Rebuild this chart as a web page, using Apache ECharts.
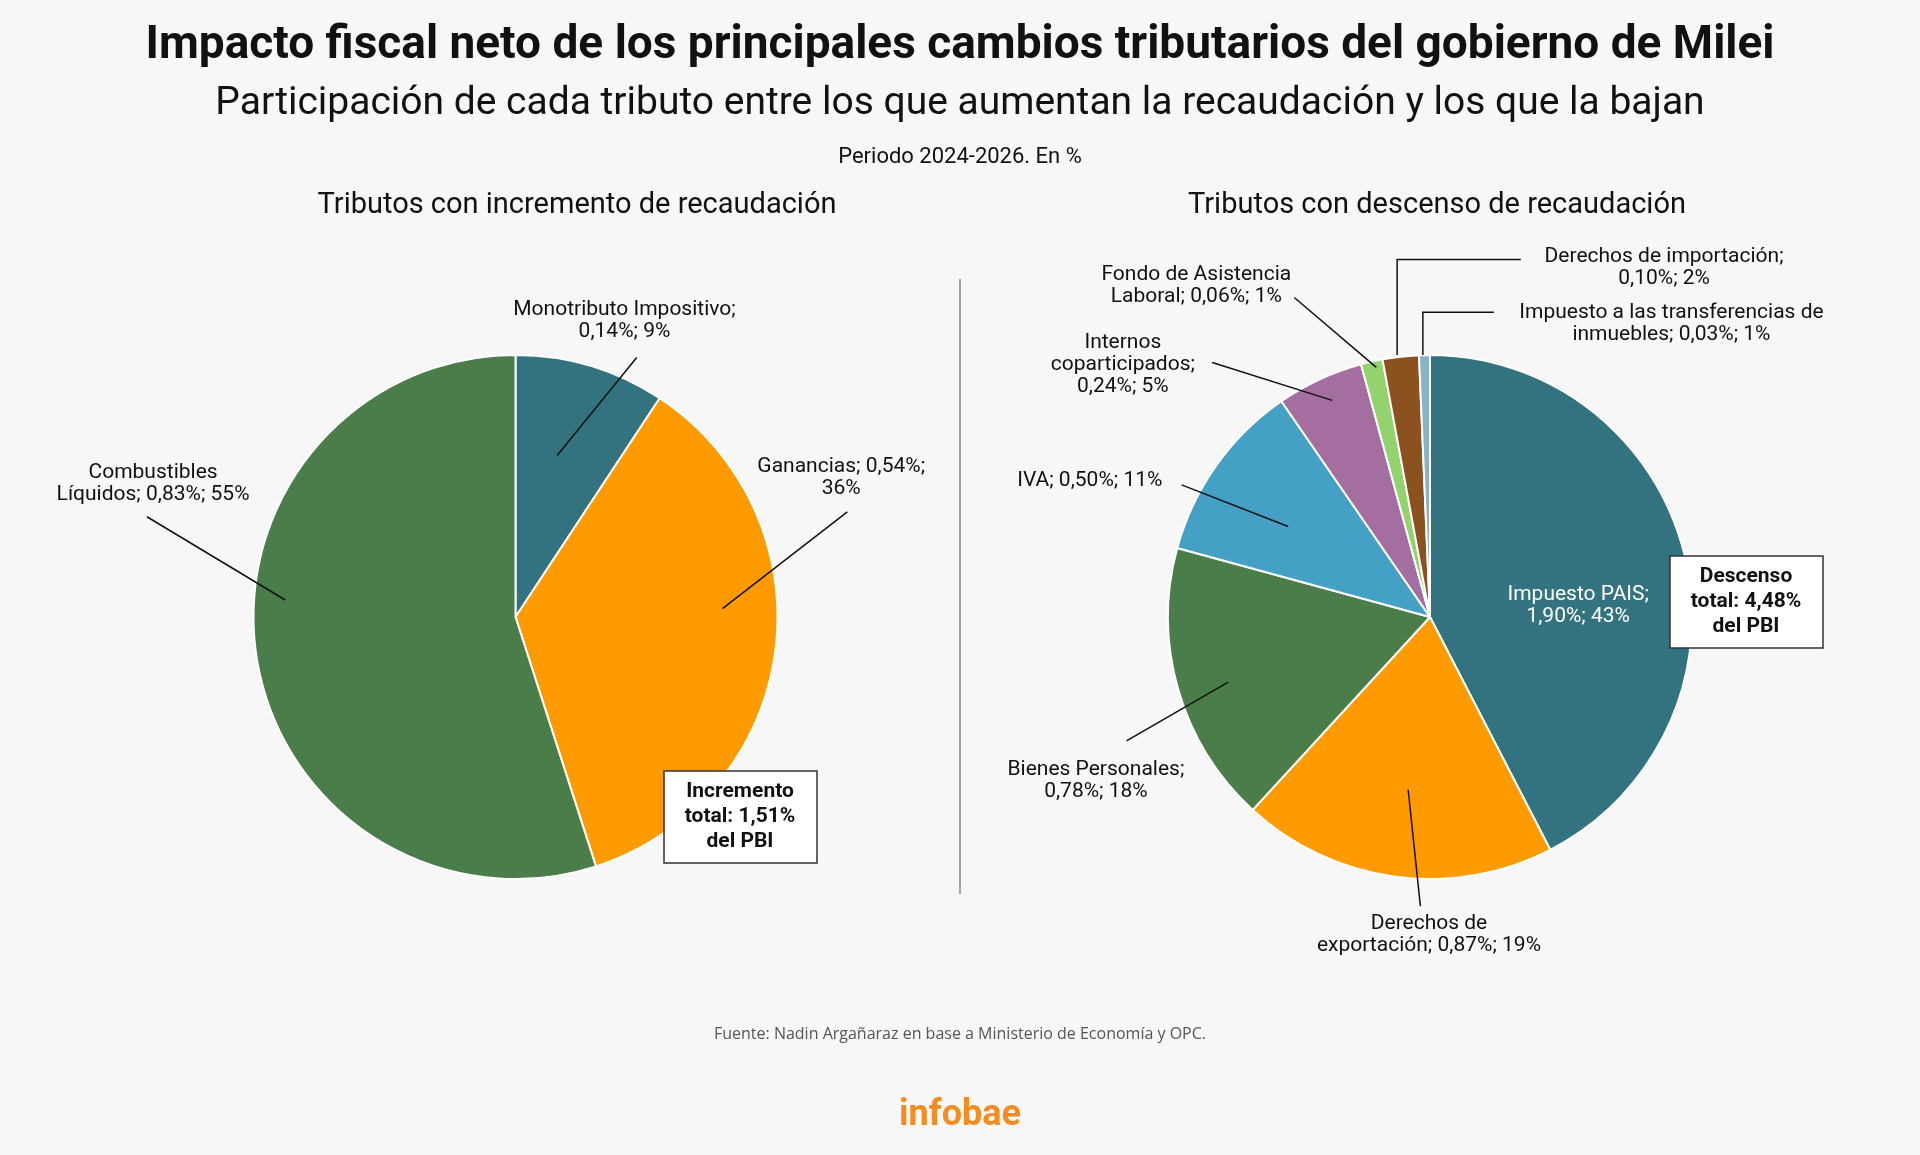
<!DOCTYPE html>
<html><head><meta charset="utf-8">
<script src="https://cdn.jsdelivr.net/npm/echarts@6/dist/echarts.min.js"></script>
<style>html,body{margin:0;padding:0;background:#f7f7f7}#c{width:1920px;height:1155px}</style>
</head><body><div id="c"></div>
<script>
const incNames=['Monotributo Impositivo','Ganancias','Combustibles Líquidos'];
const incValues=[0.14,0.54,0.83];
const incLabels=['Monotributo Impositivo;\n0,14%; 9%','Ganancias; 0,54%;\n36%','Combustibles\nLíquidos; 0,83%; 55%'];
const decNames=['Impuesto PAIS','Derechos de exportación','Bienes Personales','IVA','Internos coparticipados','Fondo de Asistencia Laboral','Derechos de importación','Impuesto a las transferencias de inmuebles'];
const decValues=[1.90,0.87,0.78,0.50,0.24,0.06,0.10,0.03];
const decLabels=['Impuesto PAIS;\n1,90%; 43%','Derechos de\nexportación; 0,87%; 19%','Bienes Personales;\n0,78%; 18%','IVA; 0,50%; 11%','Internos\ncoparticipados;\n0,24%; 5%','Fondo de Asistencia\nLaboral; 0,06%; 1%','Derechos de importación;\n0,10%; 2%','Impuesto a las transferencias de\ninmuebles; 0,03%; 1%'];
const incColors=['#33737f','#ff9b00','#4b7d4a'];
const decColors=['#33737f','#ff9b00','#4b7d4a','#45a0c5','#a56ea1','#92d36e','#8b5220','#87b3c7'];

const S=1920/1568;
const sc=p=>p.map(v=>v*S);
const incLayout=[
 {x:510,y:262,line:[[455,372],[520,292]]},
 {x:687,y:390,line:[[590,497],[692,418]]},
 {x:125,y:395,line:[[233,490],[120,422]]}
];
const decLayout=[
 null,
 {x:1167,y:763,line:[[1150,645],[1160,740]]},
 {x:895,y:638,line:[[1003,557],[920,605]]},
 {x:890,y:393,line:[[1052,430],[965,396]]},
 {x:917,y:298,line:[[1088,327],[990,296]]},
 {x:977,y:233,line:[[1124,300],[1057,243]]},
 {x:1359,y:219,line:[[1141,290],[1141,212],[1242,212]]},
 {x:1365,y:264,line:[[1162,290],[1162,255],[1220,255]]}
];
function layoutFn(L){return function(p){const l=L[p.dataIndex];if(!l)return {};
 return {x:l.x*S,y:l.y*S,align:'center',verticalAlign:'middle'};};}
const leaders=[...incLayout,...decLayout].filter(Boolean).map(l=>({type:'polyline',z:50,
  shape:{points:l.line.map(sc)},style:{stroke:'#111',lineWidth:1.5,fill:null}}));
const lblStyle={color:'#111',fontFamily:'Roboto',fontSize:21,lineHeight:22,align:'center'};
const chart=echarts.init(document.getElementById('c'));
chart.setOption({
 backgroundColor:'#f7f7f7',
 title:[
  {text:'Impacto fiscal neto de los principales cambios tributarios del gobierno de Milei',left:'center',top:18,textStyle:{fontFamily:'Roboto',fontWeight:'bold',fontSize:46,color:'#111'}},
  {text:'Participación de cada tributo entre los que aumentan la recaudación y los que la bajan',left:'center',top:80,textStyle:{fontFamily:'Roboto',fontWeight:'normal',fontSize:39,color:'#111'}},
  {text:'Periodo 2024-2026. En %',left:'center',top:141,textStyle:{fontFamily:'Roboto',fontWeight:'normal',fontSize:22,color:'#111'}},
  {text:'Tributos con incremento de recaudación',left:572,textAlign:'center',top:186,textStyle:{fontFamily:'Roboto',fontWeight:'normal',fontSize:29,color:'#111'}},
  {text:'Tributos con descenso de recaudación',left:1432,textAlign:'center',top:186,textStyle:{fontFamily:'Roboto',fontWeight:'normal',fontSize:29,color:'#111'}},
  {text:'Fuente: Nadin Argañaraz en base a Ministerio de Economía y OPC.',left:'center',top:1021,textStyle:{fontFamily:'Open Sans',fontWeight:'normal',fontSize:16,color:'#555'}},
  {text:'infobae',left:'center',top:1093,textStyle:{fontFamily:'Roboto',fontWeight:'bold',fontSize:36,color:'#f68b1f'}}
 ],
 graphic:[
  {type:'line',shape:{x1:960,y1:279,x2:960,y2:894},style:{stroke:'#888',lineWidth:1.5}},
  ...leaders,
  {type:'rect',shape:{x:664,y:771,width:153,height:92},style:{fill:'#fff',stroke:'#333',lineWidth:1.5},z:60},
  {type:'text',x:740,y:817,style:{text:'Incremento\ntotal: 1,51%\ndel PBI',align:'center',verticalAlign:'middle',font:'bold 21px Roboto',lineHeight:25,fill:'#111'},z:61},
  {type:'rect',shape:{x:1670,y:556,width:153,height:92},style:{fill:'#fff',stroke:'#333',lineWidth:1.5},z:60},
  {type:'text',x:1746,y:602,style:{text:'Descenso\ntotal: 4,48%\ndel PBI',align:'center',verticalAlign:'middle',font:'bold 21px Roboto',lineHeight:25,fill:'#111'},z:61}
 ],
 series:[
  {type:'pie',center:[515.5,617],radius:[0,262],startAngle:90,clockwise:true,animation:false,
   itemStyle:{borderColor:'#fff',borderWidth:2},
   label:Object.assign({show:true,formatter:p=>incLabels[p.dataIndex]},lblStyle),
   labelLine:{show:false},
   labelLayout:layoutFn(incLayout),
   data:incNames.map((n,i)=>({name:n,value:incValues[i],itemStyle:{color:incColors[i]}}))},
  {type:'pie',center:[1430,617],radius:[0,262],startAngle:90,clockwise:true,animation:false,
   itemStyle:{borderColor:'#fff',borderWidth:2},
   label:Object.assign({show:true,formatter:p=>decLabels[p.dataIndex]},lblStyle),
   labelLine:{show:false},
   labelLayout:layoutFn(decLayout),
   data:decNames.map((n,i)=>{const d={name:n,value:decValues[i],itemStyle:{color:decColors[i]}};
     if(i===0){d.label={position:'inside',color:'#fff',offset:[18,20]};}return d;})}
 ]
});
</script></body></html>
